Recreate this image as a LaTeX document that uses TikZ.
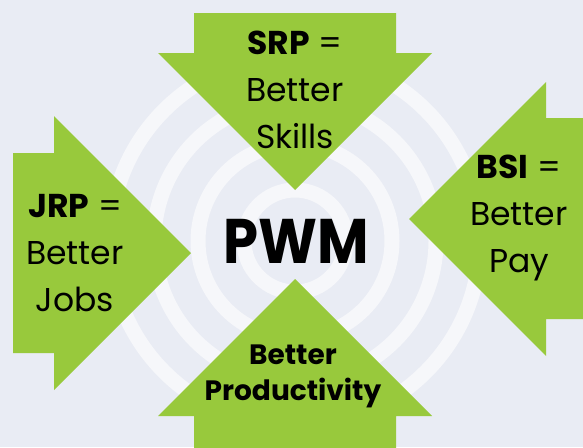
\documentclass[tikz,border=0pt]{standalone}
\usepackage{fontspec}
\setmainfont{Poppins}
\usepackage{tikz}
\usetikzlibrary{positioning}

\definecolor{bgblue}{HTML}{E9ECF4}
\definecolor{ringwhite}{HTML}{F6F7FA}
\definecolor{leafgreen}{HTML}{98C93C}

\tikzset{
	ring/.style={draw=ringwhite, line width=15pt},
	bigarrow/.style={fill=leafgreen},
	armtext/.style={align=center, inner sep=0pt, font=\fontsize{33}{47}\selectfont},
}

\begin{document}
\begin{tikzpicture}[x=1pt,y=-1pt]
		\fill[bgblue] (0,0) rectangle (583,447);
		\useasboundingbox (0,0) rectangle (583,447);
		\coordinate (hub) at (295,241);
		% rings behind everything
		\foreach \r in {51,97,141,185}
			\draw[ring] (hub) circle (\r);
		% the four arrows
		\fill[bigarrow] (194,13) -- (396,13) -- (396,53) -- (432,53) -- (295,190) -- (158,53) -- (194,53) -- cycle;
		\fill[bigarrow] (13,153) -- (54,153) -- (54,116) -- (191,253) -- (54,390) -- (54,353) -- (13,353) -- cycle;
		\fill[bigarrow] (590,118) -- (546,118) -- (546,82) -- (409,219) -- (546,356) -- (546,319) -- (590,319) -- cycle;
		\fill[bigarrow] (194,455) -- (194,416) -- (158,416) -- (295,279) -- (432,416) -- (396,416) -- (396,455) -- cycle;
		% labels
		\node[armtext] (srp) at (295,90) {\textbf{SRP} =\\Better\\Skills};
		\node[armtext] (jrp) at (75,253) {\textbf{JRP} =\\Better\\Jobs};
		\node[armtext] (bsi) at (519,218) {\textbf{BSI} =\\Better\\Pay};
		\node[armtext, font=\bfseries\fontsize{28}{36}\selectfont] (prod) at (293,376) {Better\\Productivity};
		\node[inner sep=0pt, font=\bfseries\fontsize{63}{70}\selectfont] (pwm) at (296,241) {\scalebox{0.89}[1]{PWM}};
\end{tikzpicture}
\end{document}
